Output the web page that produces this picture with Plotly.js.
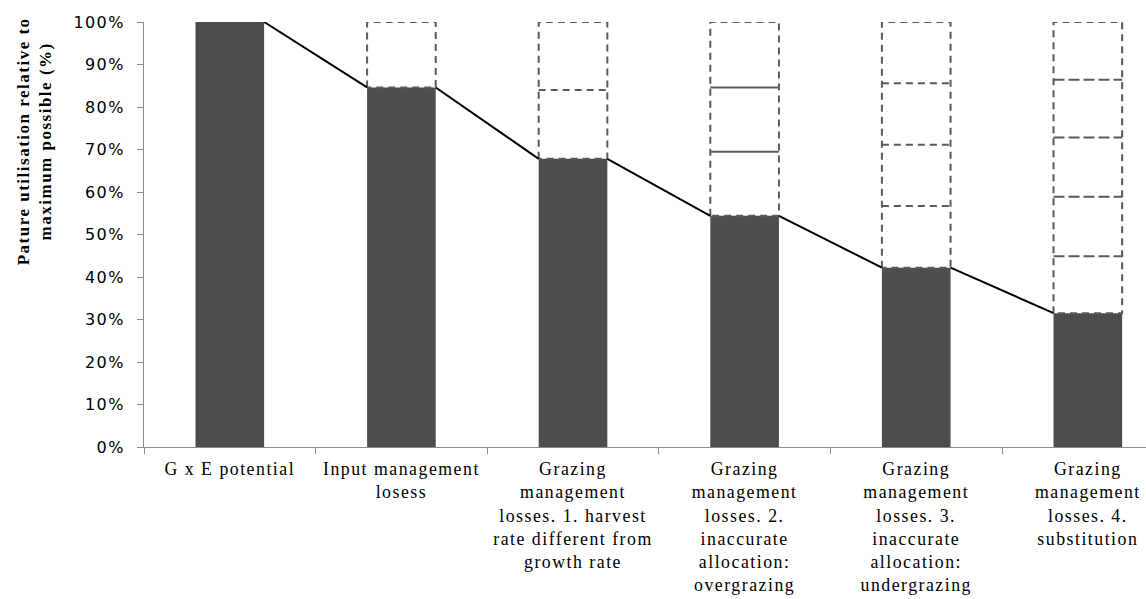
<!DOCTYPE html>
<html>
<head>
<meta charset="utf-8">
<script src="https://cdn.plot.ly/plotly-3.0.1.min.js"></script>
<style>
  html, body { margin: 0; padding: 0; background: #fff; }
  #chart { width: 1146px; height: 599px; }
  #chart .xtick text { letter-spacing: 1.5px; }
  #chart .ytick text { letter-spacing: 1.4px; }
  #chart .annotation-text { letter-spacing: 1.5px; }
</style>
</head>
<body>
<div id="chart"></div>
<script>
// ---- data ----
const categories = [
  "G x E potential",
  "Input management<br>losess",
  "Grazing<br>management<br>losses. 1. harvest<br>rate different from<br>growth rate",
  "Grazing<br>management<br>losses. 2.<br>inaccurate<br>allocation:<br>overgrazing",
  "Grazing<br>management<br>losses. 3.<br>inaccurate<br>allocation:<br>undergrazing",
  "Grazing<br>management<br>losses. 4.<br>substitution"
];
const utilisation = [100, 84.6, 67.8, 54.4, 42.2, 31.5];     // % of maximum possible
const maxPossible = 100;
// cumulative loss boundaries drawn inside each dashed box
const lossDividers = [
  [],
  [],
  [84.0],
  [69.5, 84.6],
  [56.7, 71.1, 85.6],
  [44.9, 58.9, 72.8, 86.4]
];
const dividerDash = ["7px,5px", "7px,5px", "7px,5px", "solid", "7px,5px", "11px,4px"];
const yTicks = [0, 10, 20, 30, 40, 50, 60, 70, 80, 90, 100];

// ---- build traces ----
const barWidth = 0.4;
const half = barWidth / 2;
const idx = categories.map((_, i) => i);
const traces = [];

traces.push({
  type: "bar",
  x: idx,
  y: utilisation,
  width: barWidth,
  marker: { color: "#4d4d4d", line: { width: 0 } },
  hoverinfo: "skip",
  showlegend: false
});

// dashed boxes from each bar top up to the maximum possible
const bx = [], by = [];
idx.forEach(i => {
  if (utilisation[i] >= maxPossible) return;
  bx.push(i - half, i - half, i + half, i + half, i - half, null);
  by.push(utilisation[i], maxPossible, maxPossible, utilisation[i], utilisation[i], null);
});
traces.push({
  type: "scatter", mode: "lines", x: bx, y: by,
  line: { color: "#5a5a5a", width: 2, dash: "7px,5px" },
  cliponaxis: false, hoverinfo: "skip", showlegend: false
});

// loss dividers inside each box
idx.forEach(i => {
  const d = lossDividers[i];
  if (!d.length) return;
  const dx = [], dy = [];
  d.forEach(v => { dx.push(i - half, i + half, null); dy.push(v, v, null); });
  traces.push({
    type: "scatter", mode: "lines", x: dx, y: dy,
    line: { color: "#5a5a5a", width: 2, dash: dividerDash[i] },
    cliponaxis: false, hoverinfo: "skip", showlegend: false
  });
});

// connecting line between consecutive bar tops
const lx = [], ly = [];
for (let i = 0; i < utilisation.length - 1; i++) {
  lx.push(i + half, i + 1 - half, null);
  ly.push(utilisation[i], utilisation[i + 1], null);
}
traces.push({
  type: "scatter", mode: "lines", x: lx, y: ly,
  line: { color: "#000000", width: 2 },
  cliponaxis: false, hoverinfo: "skip", showlegend: false
});

const boundaries = [];
for (let i = 0; i <= categories.length; i++) boundaries.push(i - 0.5);

const layout = {
  width: 1146,
  height: 599,
  margin: { l: 144, r: 0, t: 22, b: 152, pad: 0 },
  paper_bgcolor: "#ffffff",
  plot_bgcolor: "#ffffff",
  showlegend: false,
  xaxis: {
    range: [-0.5, 5.339],
    tickmode: "array",
    tickvals: idx,
    ticktext: categories,
    ticks: "",
    showgrid: false,
    zeroline: false,
    showline: true,
    linecolor: "#8c8c8c",
    linewidth: 1,
    automargin: false,
    ticklabelstandoff: 6,
    tickfont: { family: "Liberation Serif", size: 17.8, color: "#000" },
    minor: { tickmode: "array", tickvals: boundaries, ticks: "outside", ticklen: 6, tickcolor: "#8c8c8c", tickwidth: 1, showgrid: false }
  },
  yaxis: {
    range: [0, 100],
    tickmode: "array",
    tickvals: yTicks,
    ticktext: yTicks.map(v => v + "%"),
    ticks: "outside",
    ticklen: 6,
    tickcolor: "#8c8c8c",
    showgrid: false,
    zeroline: false,
    showline: true,
    linecolor: "#8c8c8c",
    linewidth: 1,
    automargin: false,
    ticklabelstandoff: 9,
    tickfont: { family: "DejaVu Sans", size: 16, color: "#000" }
  },
  annotations: [{
    xref: "paper", yref: "paper",
    x: -0.11, y: 0.72,
    xanchor: "center", yanchor: "middle",
    textangle: -90,
    showarrow: false,
    align: "center",
    text: "<b>Pature utilisation relative to<br>maximum possible (%)</b>",
    font: { family: "Liberation Serif", size: 17, color: "#000" }
  }]
};

Plotly.newPlot("chart", traces, layout, { staticPlot: true, displayModeBar: false });
</script>
</body>
</html>
